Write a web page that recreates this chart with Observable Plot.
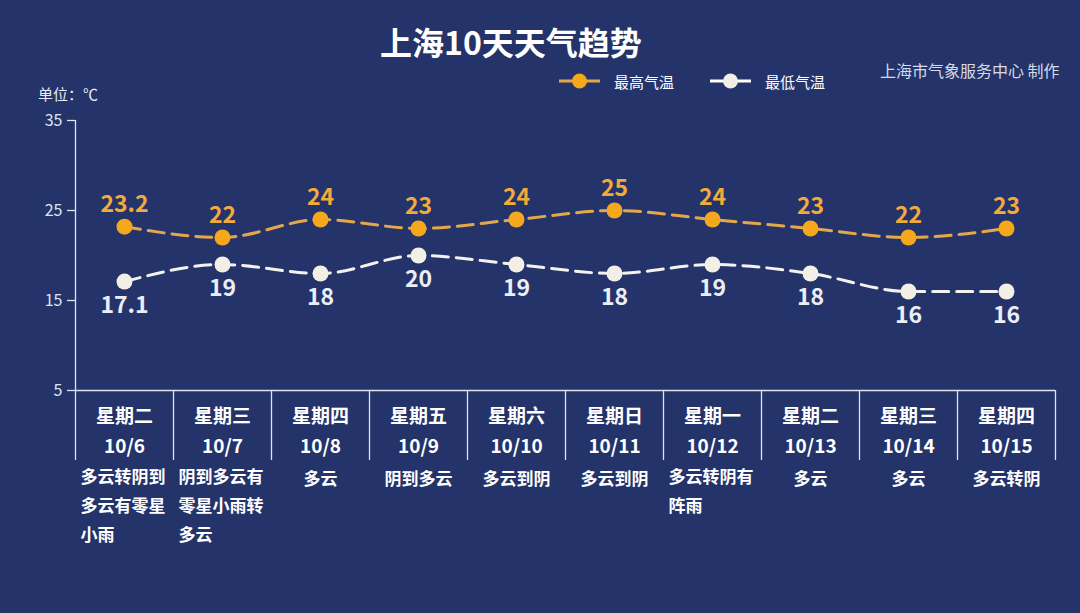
<!DOCTYPE html>
<html>
<head>
<meta charset="utf-8">
<script src="https://cdn.jsdelivr.net/npm/d3@7"></script>
<script src="https://cdn.jsdelivr.net/npm/@observablehq/plot@0.6"></script>
<style>
  html, body { margin: 0; padding: 0; background: #24346a; }
  body { font-family: "Noto Sans CJK SC", "Noto Sans", sans-serif; }
  #wrap { position: relative; width: 1080px; height: 613px; overflow: hidden; background: #24346a; }
  #chart { position: absolute; left: 0; top: 0; }
  .abs { position: absolute; line-height: 1; white-space: nowrap; }
  #title { left: 0; width: 1022px; text-align: center; top: 25px; font-size: 32px; font-weight: bold; color: #ffffff; }
  #unit { left: 38px; top: 86px; font-size: 15px; color: #e8ebf3; }
  #credit { left: 880px; top: 62px; font-size: 16px; color: #d6dae7; }
  .leg { position: absolute; top: 72px; height: 18px; display: flex; align-items: center; font-size: 15px; color: #ffffff; line-height: 1; }
  .leg svg { margin-right: 14px; }
</style>
</head>
<body>
<div id="wrap">
  <div id="chart"></div>
  <div id="title" class="abs">上海10天天气趋势</div>
  <div id="unit" class="abs">单位：℃</div>
  <div id="credit" class="abs">上海市气象服务中心 制作</div>
  <div id="legend"></div>
</div>
<script>
// ---- data ----
const days = ["星期二", "星期三", "星期四", "星期五", "星期六", "星期日", "星期一", "星期二", "星期三", "星期四"];
const dates = ["10/6", "10/7", "10/8", "10/9", "10/10", "10/11", "10/12", "10/13", "10/14", "10/15"];
const weather = ["多云转阴到多云有零星小雨", "阴到多云有零星小雨转多云", "多云", "阴到多云", "多云到阴", "多云到阴", "多云转阴有阵雨", "多云", "多云", "多云转阴"];
const highs = [23.2, 22, 24, 23, 24, 25, 24, 23, 22, 23];
const lows = [17.1, 19, 18, 20, 19, 18, 19, 18, 16, 16];
const yTicks = [5, 15, 25, 35];
const seriesNames = ["最高气温", "最低气温"];

// ---- styles ----
const C = {
  axis: "#dfe3ee",
  highLine: "#e3a84c",
  highDot: "#f5a81c",
  highText: "#f2aa3a",
  lowLine: "#f4f2ec",
  lowDot: "#f3efe6",
  lowText: "#eceef5"
};

const rows = days.map((d, i) => ({
  i, x: i + 0.5, day: d, date: dates[i],
  weather: (weather[i].match(/.{1,5}/gu) || []).join("\n"),
  multi: weather[i].length > 5,
  high: highs[i], low: lows[i]
}));

const chart = Plot.plot({
  width: 1080,
  height: 613,
  marginLeft: 75,
  marginRight: 25,
  marginTop: 120,
  marginBottom: 223,
  style: { background: "transparent", color: C.axis, fontFamily: '"Noto Sans CJK SC", sans-serif', overflow: "visible" },
  x: { type: "linear", domain: [0, 10], axis: null },
  y: { domain: [5, 35], axis: null },
  marks: [
    Plot.axisY(yTicks, { tickSize: 8, tickPadding: 5, fontSize: 16, label: null, strokeWidth: 1.3 }),
    Plot.axisX(d3.range(0, 11), { tickSize: 70, tickFormat: () => "", label: null, strokeWidth: 1.3 }),
    Plot.ruleX([0], { stroke: C.axis, strokeWidth: 1.3 }),
    Plot.ruleY([5], { stroke: C.axis, strokeWidth: 1.3 }),
    // lines
    Plot.line(rows, { x: "x", y: "high", curve: "monotone-x", stroke: C.highLine, strokeWidth: 3, strokeDasharray: "16,8" }),
    Plot.line(rows, { x: "x", y: "low", curve: "monotone-x", stroke: C.lowLine, strokeWidth: 3, strokeDasharray: "16,8" }),
    Plot.dot(rows, { x: "x", y: "high", r: 8, fill: C.highDot, stroke: "none" }),
    Plot.dot(rows, { x: "x", y: "low", r: 8, fill: C.lowDot, stroke: "none" }),
    // value labels
    Plot.text(rows, { x: "x", y: "high", text: d => String(d.high), dy: -22, fontSize: 23, fontWeight: "bold", fill: C.highText }),
    Plot.text(rows, { x: "x", y: "low", text: d => String(d.low), dy: 24, fontSize: 23, fontWeight: "bold", fill: C.lowText }),
    // category labels
    Plot.text(rows, { x: "x", text: "day", frameAnchor: "bottom", dy: 32, fontSize: 19, fontWeight: "bold", fill: "#ffffff" }),
    Plot.text(rows, { x: "x", text: "date", frameAnchor: "bottom", dy: 62, fontSize: 19, fontWeight: "bold", fill: "#ffffff" }),
    Plot.text(rows.filter(d => !d.multi), { x: "x", text: "weather", frameAnchor: "bottom", dy: 94, fontSize: 17, fontWeight: "bold", fill: "#ffffff" }),
    Plot.text(rows.filter(d => d.multi), { x: "i", text: "weather", frameAnchor: "bottom", dy: 72, dx: 5, textAnchor: "start", lineAnchor: "top", lineHeight: 1.7, fontSize: 17, fontWeight: "bold", fill: "#ffffff" })
  ]
});
document.getElementById("chart").appendChild(chart);

// legend
const legend = document.getElementById("legend");
const legItems = [
  { name: seriesNames[0], line: C.highLine, dot: C.highDot, left: 559 },
  { name: seriesNames[1], line: "#ffffff", dot: C.lowDot, left: 710 }
];
legItems.forEach(it => {
  const div = document.createElement("div");
  div.className = "leg";
  div.style.left = it.left + "px";
  div.innerHTML = `<svg width="41" height="18"><line x1="0" y1="9" x2="41" y2="9" stroke="${it.line}" stroke-width="3"/><circle cx="20.5" cy="9" r="7.5" fill="${it.dot}"/></svg><span>${it.name}</span>`;
  legend.appendChild(div);
});
</script>
</body>
</html>
